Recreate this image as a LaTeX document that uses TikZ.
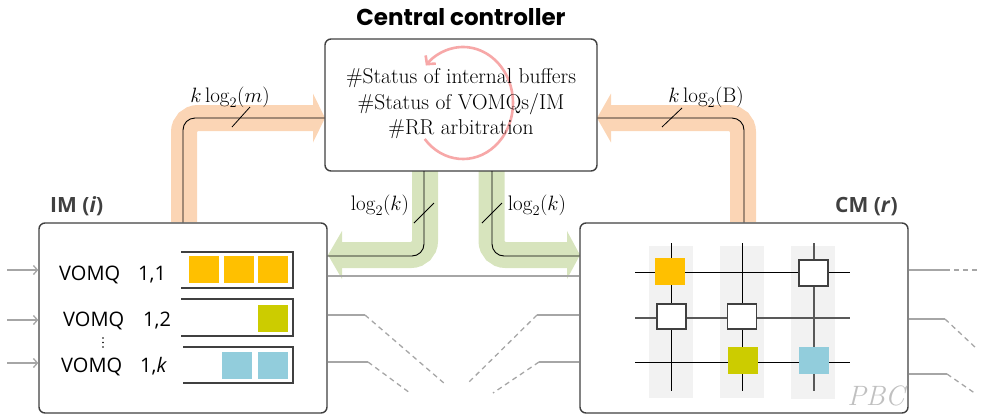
\documentclass[tikz,border=0pt]{standalone}
\usepackage{fontspec}
\newfontfamily\titlefont{Poppins}
\newfontfamily\labfont{Open Sans}
\usetikzlibrary{arrows.meta}
\definecolor{peach}{HTML}{FBD5B5}
\definecolor{lgreen}{HTML}{D7E4BD}
\definecolor{qyellow}{HTML}{FFC000}
\definecolor{qolive}{HTML}{CCCC00}
\definecolor{qblue}{HTML}{92CDDC}
\definecolor{colgray}{HTML}{F2F2F2}
\definecolor{linegray}{HTML}{A6A6A6}
\definecolor{boxgray}{HTML}{404040}
\definecolor{arcred}{HTML}{F7A8A8}
\definecolor{pbcgray}{HTML}{C0C0C0}
\begin{document}
\begin{tikzpicture}[x=1pt,y=-1pt,
  band/.style={line width=26pt, rounded corners=14pt},
  sig/.style={draw=black, line width=0.9pt, rounded corners=12pt},
  slash/.style={draw=black, line width=0.8pt},
  unitbox/.style={draw=boxgray, line width=1.4pt, rounded corners=6pt, fill=white, inner sep=0pt},
  feed/.style={draw=linegray, line width=1.3pt},
  dashfeed/.style={feed, dash pattern=on 5pt off 4pt},
  qline/.style={draw=boxgray, line width=1.5pt},
  cell/.style={minimum width=30pt, minimum height=27pt, inner sep=0pt},
  wcell/.style={cell, fill=white, draw=boxgray, line width=1.3pt},
  grid/.style={draw=black, line width=1pt},
  gridg/.style={draw=black!65, line width=1.4pt},
  lab/.style={font=\fontsize{21}{24}\selectfont, inner sep=0pt},
  vq/.style={font=\labfont\fontsize{20}{22}\selectfont, inner sep=0pt, anchor=base west},
  title/.style={font=\titlefont\bfseries\fontsize{23}{26}\selectfont, inner sep=0pt},
  unitlab/.style={font=\labfont\bfseries\fontsize{21}{24}\selectfont, text=boxgray, inner sep=0pt, anchor=base west}
]
\useasboundingbox (0,0) rectangle (983,416);

% ---------- bands (wide coloured arrows)
\fill[peach] (313,93.5) -- (325,118) -- (313,142.5) -- cycle;
\draw[band, peach] (184,222) -- (184,118) -- (313.5,118);
\fill[peach] (611,93.5) -- (597,118) -- (611,142.5) -- cycle;
\draw[band, peach] (743,222) -- (743,118) -- (610.5,118);
\fill[lgreen] (342,231) -- (328,255) -- (342,279) -- cycle;
\draw[band, lgreen] (425,171) -- (425,255) -- (341.5,255);
\fill[lgreen] (567,231) -- (580,255) -- (567,279) -- cycle;
\draw[band, lgreen] (491.5,171) -- (491.5,255) -- (567.5,255);

% ---------- units
\node[unitbox, minimum width=272pt, minimum height=132pt] (ctrl) at (461,105) {};
\node[unitbox, minimum width=288pt, minimum height=190pt] (im) at (183,318) {};
\node[unitbox, minimum width=328pt, minimum height=190pt] (cm) at (744,318) {};

% ---------- signal lines
\draw[sig] (im.north) -- (183,118) -- (ctrl.west |- 0,118);
\draw[sig] (cm.north) -- (744,118) -- (ctrl.east |- 0,118);
\draw[sig] (424,171) -- (424,256) -- (im.east |- 0,256);
\draw[sig] (492,171) -- (492,256) -- (cm.west |- 0,256);
\draw[slash] (232,127) -- (250,107);
\draw[slash] (662,127) -- (682,108);
\draw[slash] (414,223) -- (434,203);
\draw[slash] (482,223) -- (502,203);

\node[lab] (l1) at (230,97) {$k\log_2(m)$};
\node[lab] (l2) at (706,97) {$k\log_2(\mathrm{B})$};
\node[lab] (l3) at (380,205) {$\log_2(k)$};
\node[lab] (l4) at (537,205) {$\log_2(k)$};

% ---------- controller contents
\coordinate (rc) at (463,103);
\draw[arcred, line width=2.6pt, -{Straight Barb[length=6pt,width=13pt]}]
  ([shift={(220:50pt and 56pt)}]rc) arc[start angle=220, end angle=498, x radius=50pt, y radius=56pt];
\node[align=center, inner sep=0pt, font=\fontsize{21.5}{25.5}\selectfont] (ctext) at (461,104)
  {\#Status of internal buffers\\ \#Status of VOMQs/IM\\ \#RR arbitration};
\node[title] (ttl) at (461,17) {Central controller};
\node[unitlab] (imlab) at (50,212) {IM (\textit{i})};
\node[unitlab] (cmlab) at (835,212) {CM (\textit{r})};

% ---------- IM contents
\foreach \y/\n in {270/1,320/2,363/3} {
  \coordinate (in\n) at (7,\y);
  \draw[feed, -{Straight Barb[length=4pt,width=9pt]}] (in\n) -- (im.west |- 0,\y);
}
\node[vq] (v1) at (59,280.5) {VOMQ};
\node[vq] (n1) at (138,280.5) {1,1};
\node[vq] (v2) at (63,326.5) {VOMQ};
\node[vq] (n2) at (143,326.5) {1,2};
\node[vq] (v3) at (61,372.5) {VOMQ};
\node[vq] (n3) at (140,372.5) {1,\textit{k}};
\foreach \yy in {338,342.5,347} \fill[black] (103,\yy) circle (0.9pt);

\draw[qline] (181,252) -- (293,252) -- (293,288) -- (181,288);
\draw[qline] (181,299) -- (293,299) -- (293,336) -- (181,336);
\draw[qline] (183,347) -- (293,347) -- (293,383) -- (183,383);
\node[cell, fill=qyellow] (a1) at (204,269.5) {};
\node[cell, fill=qyellow] (a2) at (239,269.5) {};
\node[cell, fill=qyellow] (a3) at (273,269.5) {};
\node[cell, fill=qolive] (b1) at (273,318.5) {};
\node[cell, fill=qblue] (c1) at (237,365.5) {};
\node[cell, fill=qblue] (c2) at (273,365.5) {};

% ---------- links between IM and CM
\draw[feed] (im.east |- 0,276) -- (cm.west |- 0,276);
\coordinate (p1) at (365,315); \coordinate (p1e) at (445,384);
\coordinate (p2) at (368,362); \coordinate (p2e) at (410,393);
\coordinate (q1) at (537,315); \coordinate (q1e) at (468,383);
\coordinate (q2) at (539,362); \coordinate (q2e) at (493,393);
\draw[feed] (im.east |- p1) -- (p1); \draw[dashfeed] (p1) -- (p1e);
\draw[feed] (im.east |- p2) -- (p2); \draw[dashfeed] (p2) -- (p2e);
\draw[feed] (cm.west |- q1) -- (q1); \draw[dashfeed] (q1) -- (q1e);
\draw[feed] (cm.west |- q2) -- (q2); \draw[dashfeed] (q2) -- (q2e);
\coordinate (r1) at (945,270); \coordinate (r1e) at (978,270);
\coordinate (r2) at (945,319); \coordinate (r2e) at (977,349);
\coordinate (r3) at (947,374); \coordinate (r3e) at (976,394);
\draw[feed] (cm.east |- r1) -- (r1); \draw[dashfeed] (r1) -- (r1e);
\draw[feed] (cm.east |- r2) -- (r2); \draw[dashfeed] (r2) -- (r2e);
\draw[feed] (cm.east |- r3) -- (r3); \draw[dashfeed] (r3) -- (r3e);

% ---------- CM crossbar
\fill[colgray] (649,246) rectangle (693,398);
\fill[colgray] (720,246) rectangle (764,398);
\fill[colgray] (791,246) rectangle (835,399);
\draw[grid] (635,272) -- (850,272);
\draw[gridg] (635,318) -- (850,318);
\draw[grid] (635,362) -- (850,362);
\draw[grid] (671,243) -- (671,391);
\draw[grid] (742,243) -- (742,391);
\draw[gridg] (814,243) -- (814,391);
\node[cell, fill=qyellow] (x11) at (670,271.5) {};
\node[wcell, minimum width=29pt, minimum height=26pt] (x13) at (813.5,273) {};
\node[wcell, minimum width=29pt, minimum height=25pt] (x21) at (671.5,316.5) {};
\node[wcell, minimum width=29pt, minimum height=25pt] (x22) at (742,316.5) {};
\node[cell, fill=qolive] (x32) at (743,360.5) {};
\node[cell, fill=qblue] (x33) at (814,360.5) {};
\node[font=\itshape\fontsize{28}{30}\selectfont, text=pbcgray, inner sep=0pt, anchor=base east] (pbc) at (905,405) {PBC};
\end{tikzpicture}
\end{document}
